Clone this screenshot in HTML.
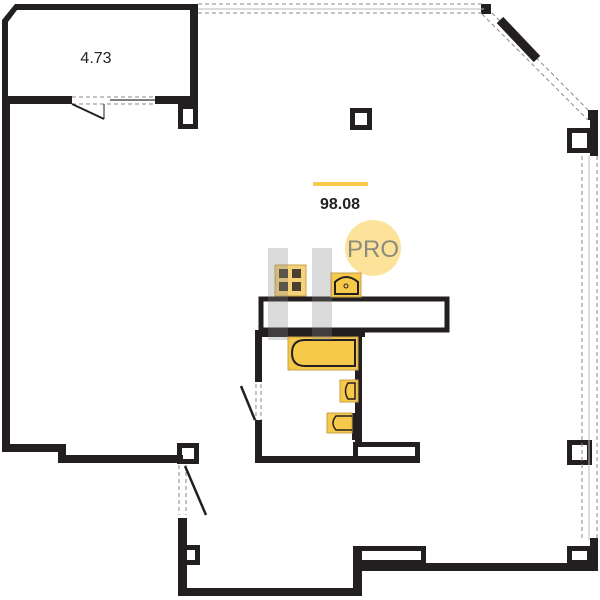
<!DOCTYPE html>
<html><head><style>body{margin:0;background:#fff}svg{display:block}</style></head><body>
<svg width="600" height="600" viewBox="0 0 600 600" xmlns="http://www.w3.org/2000/svg">
<g fill="#231f20">
<polygon points="2,20 15,4 196,4 196,10 17,10 8,22 8,100 2,100"/>
<rect x="190" y="4" width="8" height="100"/>
<rect x="2" y="96" width="70" height="8"/>
<rect x="155" y="96" width="43" height="8"/>
<rect x="2" y="96" width="8" height="356"/>
<rect x="2" y="444" width="64" height="8"/>
<rect x="58" y="444" width="8" height="19"/>
<rect x="58" y="455" width="125" height="8"/>
<rect x="178" y="518" width="9" height="78"/>
<rect x="178" y="588" width="184" height="8"/>
<rect x="353" y="546" width="9" height="50"/>
<rect x="353" y="563" width="245" height="8"/>
<rect x="590" y="538" width="8" height="33"/>
<rect x="590" y="112" width="8" height="44"/>
<rect x="255" y="330" width="7" height="52"/>
<rect x="255" y="420" width="7" height="43"/>
<rect x="255" y="456" width="165" height="7"/>
<rect x="255" y="330" width="110" height="7"/>
<rect x="355" y="330" width="7" height="115"/>
<rect x="352" y="413" width="10" height="27"/>
</g>
<g fill="none" stroke="#231f20" stroke-width="5">
<rect x="180.5" y="106.5" width="15" height="20"/>
<rect x="352.5" y="110.5" width="17" height="17"/>
<rect x="179.5" y="445.5" width="17" height="16"/>
<rect x="180.5" y="547.5" width="17" height="15"/>
<rect x="355.5" y="548.5" width="68" height="14"/>
<rect x="569.5" y="548.5" width="20" height="14"/>
<rect x="569.5" y="442.5" width="20" height="20"/>
<rect x="569.5" y="130.5" width="20" height="20"/>
<rect x="261" y="299" width="186" height="31"/>
<rect x="355.5" y="444.5" width="62" height="15"/>
</g>
<line x1="487" y1="8" x2="594" y2="116" stroke="#888" stroke-width="1" stroke-dasharray="4,3"/>
<line x1="482" y1="14" x2="588" y2="120" stroke="#888" stroke-width="1" stroke-dasharray="4,3"/>
<line x1="500" y1="20" x2="537" y2="59" stroke="#231f20" stroke-width="9"/>
<rect x="481" y="4" width="10" height="10" fill="#231f20"/>
<rect x="588" y="110" width="10" height="10" fill="#231f20"/>
<g stroke="#888" stroke-width="1" stroke-dasharray="4,3" fill="none">
<line x1="198" y1="4" x2="484" y2="4"/><line x1="198" y1="13" x2="484" y2="13"/>
<line x1="582" y1="156" x2="582" y2="540"/><line x1="597" y1="156" x2="597" y2="540"/>
<line x1="72" y1="97" x2="155" y2="97"/><line x1="72" y1="104" x2="155" y2="104"/>
<line x1="179" y1="465" x2="179" y2="515"/><line x1="186" y1="465" x2="186" y2="515"/>
<line x1="256" y1="384" x2="256" y2="420"/><line x1="261" y1="384" x2="261" y2="420"/>
</g>
<line x1="589" y1="156" x2="589" y2="540" stroke="#bbb" stroke-width="1"/>
<line x1="198" y1="9" x2="484" y2="9" stroke="#bbb" stroke-width="1"/>
<line x1="110" y1="100" x2="155" y2="100" stroke="#555" stroke-width="1.5"/>
<line x1="72" y1="104" x2="104" y2="119" stroke="#231f20" stroke-width="2"/>
<line x1="104" y1="104" x2="104" y2="119" stroke="#231f20" stroke-width="1"/>
<line x1="185" y1="466" x2="206" y2="515" stroke="#231f20" stroke-width="2.5"/>
<line x1="255" y1="420" x2="241" y2="386" stroke="#231f20" stroke-width="2.5"/>
<text x="96" y="63" font-family="Liberation Sans, sans-serif" font-size="16" text-anchor="middle" fill="#222">4.73</text>
<rect x="313" y="182" width="55" height="4" fill="#f6c94a"/>
<text x="340" y="209" font-family="Liberation Sans, sans-serif" font-size="16" font-weight="bold" text-anchor="middle" fill="#222">98.08</text>
<circle cx="373" cy="248" r="28" fill="#fde39a"/>
<text x="373" y="257" font-family="Liberation Sans, sans-serif" font-size="24" text-anchor="middle" fill="#8a8a80">PRO</text>
<rect x="275" y="265" width="31" height="31" fill="#f6d27a" stroke="#c7a04a"/>
<g fill="#4a4030"><rect x="279" y="269" width="9" height="9"/><rect x="292" y="269" width="9" height="9"/><rect x="279" y="282" width="9" height="9"/><rect x="292" y="282" width="9" height="9"/></g>
<rect x="331" y="273" width="30" height="24" fill="#f6c94a" stroke="#c7a04a"/>
<path d="M335 294 V282 Q346 272 358 282 V294 Z" fill="none" stroke="#231f20" stroke-width="2"/>
<circle cx="346" cy="286" r="2" fill="none" stroke="#231f20"/>
<rect x="288" y="337" width="70" height="33" fill="#f6c94a" stroke="#c7a04a"/>
<path d="M355 340 H305 Q292 340 292 353 Q292 366 305 366 H355 Z" fill="none" stroke="#231f20" stroke-width="2"/>
<rect x="340" y="380" width="18" height="22" fill="#f6c94a" stroke="#c7a04a"/>
<path d="M355 383 H348 Q343 391 348 399 H355 Z" fill="none" stroke="#231f20" stroke-width="1.5"/>
<rect x="327" y="413" width="25" height="20" fill="#f6c94a" stroke="#c7a04a"/>
<path d="M352 416 H336 Q330 423 336 430 H352" fill="none" stroke="#231f20" stroke-width="1.5"/>
<rect x="268" y="248" width="20" height="92" fill="#888" opacity="0.3"/>
<rect x="312" y="248" width="20" height="92" fill="#888" opacity="0.3"/>
</svg>
</body></html>
